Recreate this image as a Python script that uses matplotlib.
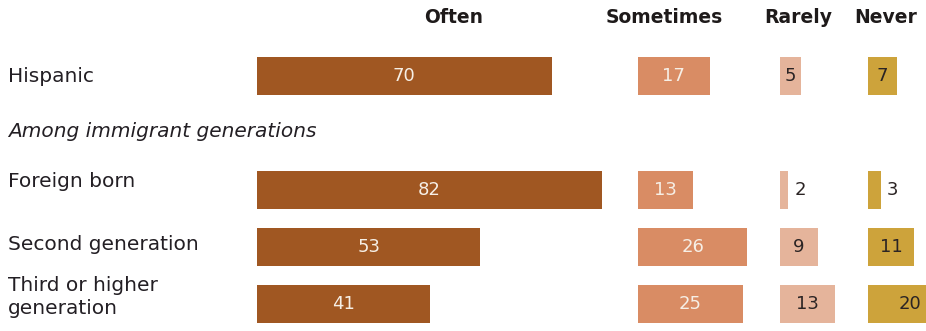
import matplotlib.pyplot as plt
from matplotlib.transforms import blended_transform_factory

categories = ["Hispanic", "Foreign born", "Second generation", "Third or higher\ngeneration"]
often = [70, 82, 53, 41]
sometimes = [17, 13, 26, 25]
rarely = [5, 2, 9, 13]
never = [7, 3, 11, 20]
headers = ["Often", "Sometimes", "Rarely", "Never"]

rows = [0, 2, 3, 4]
label_shift = [0.0, -0.15, -0.05, -0.12]   # row labels sit a little above the bar centre
colors = ["#a05722", "#d98c64", "#e5b49b", "#cda33b"]
label_colors = ["#f6efe6", "#f6efe6", "#2b2424", "#2b2424"]

W, H = 926, 331
PX = 4.21            # pixels per percentage point
ROW = 57             # pixels between rows
TOP = 76             # pixel y of the first row
starts = [257, 638, 780, 868]
head_x = [46.8, 6.2, 4.3, 4.3]

plt.rcParams['font.family'] = 'DejaVu Sans'
fig = plt.figure(figsize=(W / 100, H / 100), dpi=100)
fig.patch.set_facecolor('white')

ylim = ((H - TOP) / ROW, -TOP / ROW)
axes = []
for i, (series, x0) in enumerate(zip([often, sometimes, rarely, never], starts)):
    ax = fig.add_axes([x0 / W, 0, 100 * PX / W, 1])
    ax.set_xlim(0, 100)
    ax.set_ylim(*ylim)
    ax.axis('off')
    ax.patch.set_alpha(0)
    ax.barh(rows, series, height=0.65, color=colors[i], clip_on=False)
    for r, v in zip(rows, series):
        if v < 4:
            ax.text(v + 1.5, r, str(v), ha='left', va='center',
                    fontsize=13, color="#2b2424")
        else:
            ax.text(v / 2, r, str(v), ha='center', va='center',
                    fontsize=13, color=label_colors[i])
    ax.text(head_x[i], -1.02, headers[i], ha='center', va='center',
            fontsize=13.5, fontweight='bold', color="#1e1a1a")
    axes.append(ax)

# row labels on the left
tr = blended_transform_factory(fig.transFigure, axes[0].transData)
for r, name, dy in zip(rows, categories, label_shift):
    axes[0].text(8 / W, r + dy, name, transform=tr, ha='left', va='center',
                 fontsize=14.5, color="#231f24", linespacing=1.3)
axes[0].text(8 / W, 0.97, "Among immigrant generations", transform=tr,
             ha='left', va='center', fontsize=14.5, style='italic', color="#231f24")

fig.savefig("out.png", dpi=100)
